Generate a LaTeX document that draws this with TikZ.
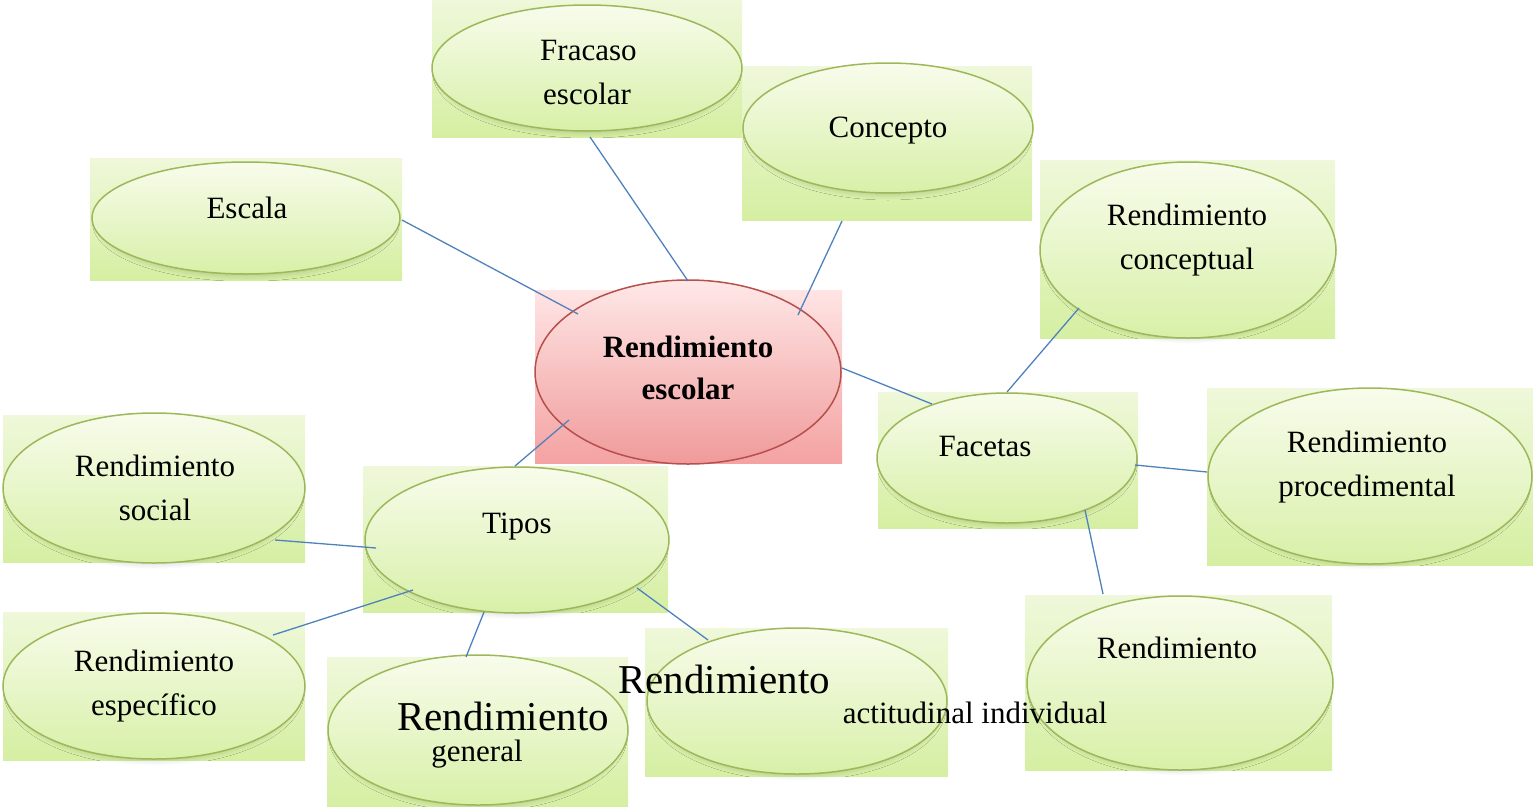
\documentclass[tikz,border=0pt]{standalone}
\usepackage{fontspec}
\setmainfont{Liberation Serif}
\usetikzlibrary{calc,shapes.geometric,shadows.blur}
\definecolor{gtop}{HTML}{EFF8DA}
\definecolor{gbot}{HTML}{D5EFA2}
\definecolor{etop}{HTML}{F8FCEC}
\definecolor{ebot}{HTML}{D8F0A8}
\definecolor{gedge}{HTML}{9DB85A}
\definecolor{ptop}{HTML}{FFE4E4}
\definecolor{pbot}{HTML}{F4A2A2}
\definecolor{petop}{HTML}{FFE8E8}
\definecolor{pebot}{HTML}{F09A9A}
\definecolor{pedge}{HTML}{B5504C}
\definecolor{linkc}{HTML}{4F81BD}
\tikzset{
  gbox/.style={rectangle, inner sep=0pt, draw=none, top color=gtop, bottom color=gbot},
  pbox/.style={rectangle, inner sep=0pt, draw=none, top color=ptop, bottom color=pbot},
  gell/.style={ellipse, inner sep=0pt, draw=gedge, line width=1.5pt, top color=etop, bottom color=ebot,
     blur shadow={shadow xshift=0pt, shadow yshift=-4pt, shadow scale=0.96, shadow opacity=18, shadow blur steps=8, shadow blur radius=6pt}},
  pell/.style={ellipse, inner sep=0pt, draw=pedge, line width=1.5pt, top color=petop, bottom color=pebot},
  txt/.style={inner sep=0pt, align=center, font=\fontsize{31}{44}\selectfont},
  btxt/.style={inner sep=0pt, align=center, font=\fontsize{31}{42}\selectfont\bfseries},
  bigtxt/.style={inner sep=0pt, font=\fontsize{41}{48}\selectfont},
  linkln/.style={draw=linkc, line width=1.3pt}
}
\begin{document}
\begin{tikzpicture}[x=1pt,y=-1pt]
\useasboundingbox (0,0) rectangle (1533,806);
% background rectangles
\node[gbox, minimum width=310pt, minimum height=137pt] (fraR) at (587,68.5) {};
\node[gbox, minimum width=290pt, minimum height=154pt] (cptR) at (887,143) {};
\node[gbox, minimum width=312pt, minimum height=122pt] (escR) at (246,219) {};
\node[gbox, minimum width=295pt, minimum height=178pt] (conR) at (1187.5,249) {};
\node[pbox, minimum width=307pt, minimum height=173pt] (cenR) at (688.5,376.5) {};
\node[gbox, minimum width=260pt, minimum height=136pt] (facR) at (1008,460) {};
\node[gbox, minimum width=326pt, minimum height=177pt] (proR) at (1370,476.5) {};
\node[gbox, minimum width=302pt, minimum height=147pt] (socR) at (154,488.5) {};
\node[gbox, minimum width=305pt, minimum height=146pt] (tipR) at (515.5,539) {};
\node[gbox, minimum width=302pt, minimum height=148pt] (espR) at (154,686) {};
\node[gbox, minimum width=301pt, minimum height=149pt] (genR) at (477.5,731.5) {};
\node[gbox, minimum width=303pt, minimum height=148pt] (actR) at (796.5,702) {};
\node[gbox, minimum width=307pt, minimum height=175pt] (renR) at (1178.5,682.5) {};
% ellipses
\node[gell, minimum width=310pt, minimum height=126pt] (fra) at (587,68) {};
\node[gell, minimum width=290pt, minimum height=130pt] (cpt) at (888,128) {};
\node[gell, minimum width=308pt, minimum height=112pt] (esc) at (246,218) {};
\node[gell, minimum width=296pt, minimum height=176pt] (con) at (1188,250) {};
\node[pell, minimum width=306pt, minimum height=184pt] (cen) at (688,372) {};
\node[gell, minimum width=260pt, minimum height=130pt] (fac) at (1007,458) {};
\node[gell, minimum width=324pt, minimum height=176pt] (pro) at (1370,476) {};
\node[gell, minimum width=302pt, minimum height=150pt] (soc) at (154,488) {};
\node[gell, minimum width=304pt, minimum height=146pt] (tip) at (517,540) {};
\node[gell, minimum width=302pt, minimum height=146pt] (esp) at (154,686) {};
\node[gell, minimum width=300pt, minimum height=150pt] (gen) at (478,730) {};
\node[gell, minimum width=300pt, minimum height=146pt] (act) at (797,701) {};
\node[gell, minimum width=306pt, minimum height=174pt] (ren) at (1180,683) {};
% connectors
\draw[linkln] ($(esc)+(156,2)$) -- ($(cen)+(-110,-58)$);
\draw[linkln] ($(fra)+(3,69)$) -- ($(cen)+(0,-91)$);
\draw[linkln] ($(cpt)+(-46,93)$) -- ($(cen)+(110,-57)$);
\draw[linkln] ($(cen)+(154,-4)$) -- ($(fac)+(-75,-54)$);
\draw[linkln] ($(cen)+(-119,48)$) -- ($(tip)+(-2,-74)$);
\draw[linkln] ($(fac)+(0,-66)$) -- ($(con)+(-109,58)$);
\draw[linkln] ($(fac)+(128,7)$) -- ($(pro)+(-163,-4)$);
\draw[linkln] ($(fac)+(78,52)$) -- ($(ren)+(-77,-89)$);
\draw[linkln] ($(tip)+(-141,8)$) -- ($(soc)+(121,52)$);
\draw[linkln] ($(tip)+(-104,50)$) -- ($(esp)+(119,-51)$);
\draw[linkln] ($(tip)+(-33,72)$) -- ($(gen)+(-12,-73)$);
\draw[linkln] ($(tip)+(120,48)$) -- ($(act)+(-89,-61)$);
% texts
\node[txt, align=left, anchor=west] (fraT) at (540,72) {Fracaso\\\hspace*{3pt}escolar};
\node[txt] (cptT) at (888,131) {Concepto};
\node[txt] (escT) at (247,208) {Escala};
\node[txt] (conT) at (1187,240) {Rendimiento\\conceptual};
\node[btxt] (cenT) at (688,368) {Rendimiento\\escolar};
\node[txt] (facT) at (985,446) {Facetas};
\node[txt] (proT) at (1367,467) {Rendimiento\\procedimental};
\node[txt] (socT) at (155,488) {Rendimiento\\social};
\node[txt] (tipT) at (517,527) {Tipos};
\node[txt] (espT) at (154,686) {Rendimiento\\específico};
\node[bigtxt] (genT1) at (503,716) {Rendimiento};
\node[txt] (genT2) at (477,754) {general};
\node[bigtxt] (actT1) at (724,679) {Rendimiento};
\node[txt] (actT2) at (975,713) {actitudinal individual};
\node[txt] (renT) at (1177,648) {Rendimiento};
\end{tikzpicture}
\end{document}
